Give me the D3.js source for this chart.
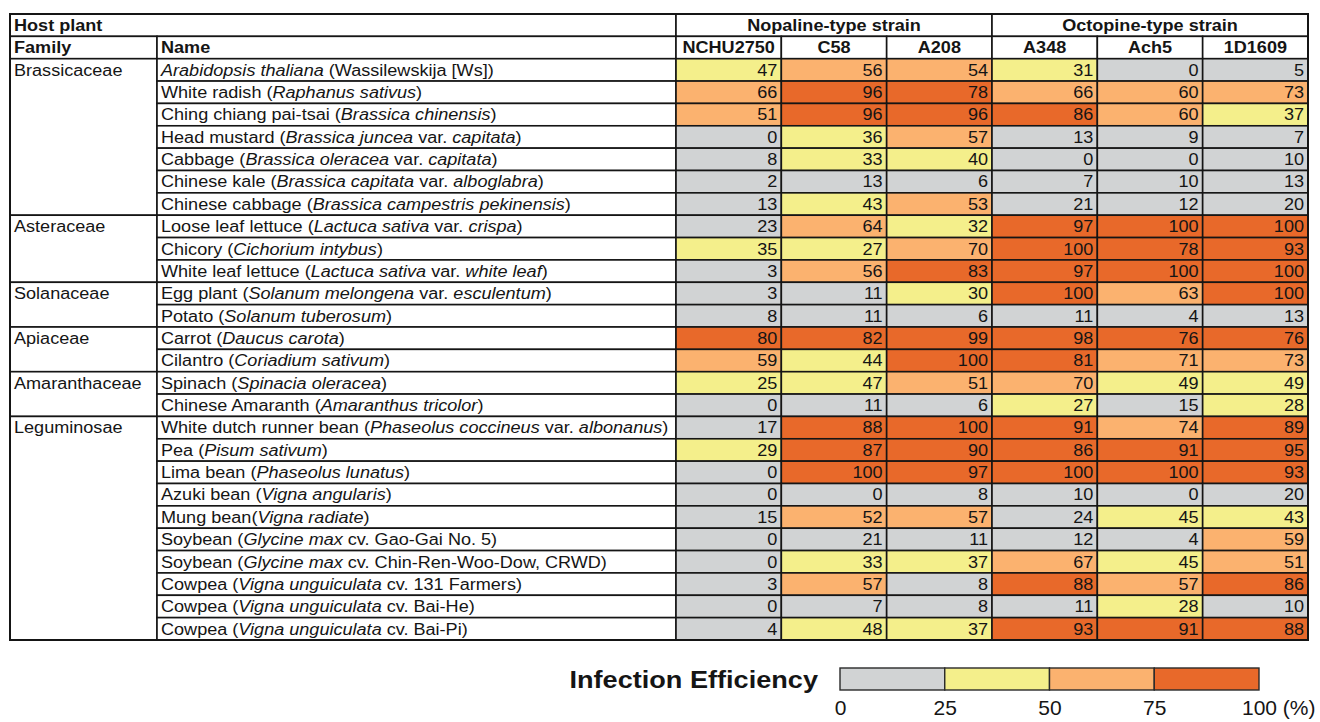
<!DOCTYPE html>
<html>
<head>
<meta charset="utf-8">
<script src="https://cdn.jsdelivr.net/npm/d3@7"></script>
<style>
  html, body { margin: 0; padding: 0; background: #fff; }
  svg { display: block; font-family: 'Liberation Sans', Arial, sans-serif; }
</style>
</head>
<body>
<div id="chart"></div>
<script>
const strains = ['NCHU2750', 'C58', 'A208', 'A348', 'Ach5', '1D1609'];
const strainGroups = ['Nopaline-type strain', 'Octopine-type strain'];
const groupSizes = [3, 3];

const families = ['Brassicaceae', 'Asteraceae', 'Solanaceae', 'Apiaceae', 'Amaranthaceae', 'Leguminosae'];
const familySizes = [7, 3, 2, 2, 2, 10];

// *...* marks the italic (latin) part of a name
const plantNames = [
  '*Arabidopsis thaliana* (Wassilewskija [Ws])',
  'White radish (*Raphanus sativus*)',
  'Ching chiang pai-tsai (*Brassica chinensis*)',
  'Head mustard (*Brassica juncea* var. *capitata*)',
  'Cabbage (*Brassica oleracea* var. *capitata*)',
  'Chinese kale (*Brassica capitata* var. *alboglabra*)',
  'Chinese cabbage (*Brassica campestris pekinensis*)',
  'Loose leaf lettuce (*Lactuca sativa* var. *crispa*)',
  'Chicory (*Cichorium intybus*)',
  'White leaf lettuce (*Lactuca sativa* var. *white leaf*)',
  'Egg plant (*Solanum melongena* var. *esculentum*)',
  'Potato (*Solanum tuberosum*)',
  'Carrot (*Daucus carota*)',
  'Cilantro (*Coriadium sativum*)',
  'Spinach (*Spinacia oleracea*)',
  'Chinese Amaranth (*Amaranthus tricolor*)',
  'White dutch runner bean (*Phaseolus coccineus* var. *albonanus*)',
  'Pea (*Pisum sativum*)',
  'Lima bean (*Phaseolus lunatus*)',
  'Azuki bean (*Vigna angularis*)',
  'Mung bean(*Vigna radiate*)',
  'Soybean (*Glycine max* cv. Gao-Gai No. 5)',
  'Soybean (*Glycine max* cv. Chin-Ren-Woo-Dow, CRWD)',
  'Cowpea (*Vigna unguiculata* cv. 131 Farmers)',
  'Cowpea (*Vigna unguiculata* cv. Bai-He)',
  'Cowpea (*Vigna unguiculata* cv. Bai-Pi)'
];

// infection efficiency (%) per plant, columns in the order of strains
const efficiency = [
  [47, 56, 54, 31, 0, 5],
  [66, 96, 78, 66, 60, 73],
  [51, 96, 96, 86, 60, 37],
  [0, 36, 57, 13, 9, 7],
  [8, 33, 40, 0, 0, 10],
  [2, 13, 6, 7, 10, 13],
  [13, 43, 53, 21, 12, 20],
  [23, 64, 32, 97, 100, 100],
  [35, 27, 70, 100, 78, 93],
  [3, 56, 83, 97, 100, 100],
  [3, 11, 30, 100, 63, 100],
  [8, 11, 6, 11, 4, 13],
  [80, 82, 99, 98, 76, 76],
  [59, 44, 100, 81, 71, 73],
  [25, 47, 51, 70, 49, 49],
  [0, 11, 6, 27, 15, 28],
  [17, 88, 100, 91, 74, 89],
  [29, 87, 90, 86, 91, 95],
  [0, 100, 97, 100, 100, 93],
  [0, 0, 8, 10, 0, 20],
  [15, 52, 57, 24, 45, 43],
  [0, 21, 11, 12, 4, 59],
  [0, 33, 37, 67, 45, 51],
  [3, 57, 8, 88, 57, 86],
  [0, 7, 8, 11, 28, 10],
  [4, 48, 37, 93, 91, 88]
];

const legendTicks = [0, 25, 50, 75, 100];
const legendColors = ['#d1d3d4', '#f4ef8b', '#fbb26f', '#e8692a'];

const W = 1320, H = 722;
const FS = 16;
const SX = 1.13; // text in the figure is a bit wider than Arial
const ink = '#151515';

const svg = d3.select('#chart')
  .append('svg')
  .attr('width', W)
  .attr('height', H)
  .attr('viewBox', `0 0 ${W} ${H}`);

// rows: 2 header rows + one per plant
const y = d3.scaleBand()
  .domain(d3.range(plantNames.length + 2))
  .range([14, 640]);

const colFamily = [10, 157];
const colName = [157, 676];
const x = d3.scaleBand()
  .domain(strains)
  .range([676, 1308]);

const color = d3.scaleThreshold()
  .domain(legendTicks.slice(1, -1))
  .range(legendColors);

function cell(g, x0, y0, w, h, fill) {
  g.append('rect')
    .attr('x', x0)
    .attr('y', y0)
    .attr('width', w)
    .attr('height', h)
    .attr('fill', fill)
    .attr('stroke', ink)
    .attr('stroke-width', 1.6);
}

function label(g, str, px, py, anchor, weight, size, sx) {
  const t = g.append('text')
    .attr('transform', `translate(${px},${py}) scale(${sx || SX},1)`)
    .attr('text-anchor', anchor)
    .attr('dy', '0.36em')
    .attr('font-size', size || FS)
    .attr('font-weight', weight || 'normal')
    .attr('fill', ink);
  str.split('*').forEach((part, i) => {
    if (!part) return;
    t.append('tspan')
      .attr('font-style', i % 2 ? 'italic' : 'normal')
      .text(part);
  });
  return t;
}

const table = svg.append('g');
const rowMid = (r) => y(r) + y.bandwidth() / 2;

// header row 1
cell(table, colFamily[0], y(0), colName[1] - colFamily[0], y.bandwidth(), '#fff');
label(table, 'Host plant', colFamily[0] + 4, rowMid(0), 'start', 'bold');
let gi = 0;
strainGroups.forEach((gname, k) => {
  const first = strains[gi];
  const last = strains[gi + groupSizes[k] - 1];
  const gx0 = x(first);
  const gx1 = x(last) + x.bandwidth();
  cell(table, gx0, y(0), gx1 - gx0, y.bandwidth(), '#fff');
  label(table, gname, (gx0 + gx1) / 2, rowMid(0), 'middle', 'bold');
  gi += groupSizes[k];
});

// header row 2
cell(table, colFamily[0], y(1), colFamily[1] - colFamily[0], y.bandwidth(), '#fff');
label(table, 'Family', colFamily[0] + 4, rowMid(1), 'start', 'bold');
cell(table, colName[0], y(1), colName[1] - colName[0], y.bandwidth(), '#fff');
label(table, 'Name', colName[0] + 4, rowMid(1), 'start', 'bold');
strains.forEach((s) => {
  cell(table, x(s), y(1), x.bandwidth(), y.bandwidth(), '#fff');
  label(table, s, x(s) + x.bandwidth() / 2, rowMid(1), 'middle', 'bold');
});

// family cells (merged over their rows)
let r0 = 2;
families.forEach((f, k) => {
  const h = y.bandwidth() * familySizes[k];
  cell(table, colFamily[0], y(r0), colFamily[1] - colFamily[0], h, '#fff');
  label(table, f, colFamily[0] + 4, rowMid(r0), 'start');
  r0 += familySizes[k];
});

// plant names
plantNames.forEach((n, i) => {
  cell(table, colName[0], y(i + 2), colName[1] - colName[0], y.bandwidth(), '#fff');
  label(table, n, colName[0] + 4, rowMid(i + 2), 'start');
});

// value cells
const cells = efficiency.flatMap((row, i) =>
  row.map((v, j) => ({ r: i + 2, s: strains[j], v })));

table.selectAll('.val')
  .data(cells)
  .enter()
  .append('rect')
  .attr('class', 'val')
  .attr('x', (d) => x(d.s))
  .attr('y', (d) => y(d.r))
  .attr('width', x.bandwidth())
  .attr('height', y.bandwidth())
  .attr('fill', (d) => color(d.v))
  .attr('stroke', ink)
  .attr('stroke-width', 1.6);

cells.forEach((d) => {
  label(table, String(d.v), x(d.s) + x.bandwidth() - 4, rowMid(d.r), 'end');
});

// outer frame
table.append('rect')
  .attr('x', colFamily[0])
  .attr('y', y(0))
  .attr('width', x.range()[1] - colFamily[0])
  .attr('height', y.range()[1] - y(0))
  .attr('fill', 'none')
  .attr('stroke', ink)
  .attr('stroke-width', 2);

// legend
const lx = d3.scaleLinear()
  .domain([0, 100])
  .range([840, 1259]);
const legend = svg.append('g');
const ly0 = 668, lh = 22;

legend.selectAll('rect')
  .data(legendColors)
  .enter()
  .append('rect')
  .attr('x', (d, i) => lx(legendTicks[i]))
  .attr('y', ly0)
  .attr('width', (d, i) => lx(legendTicks[i + 1]) - lx(legendTicks[i]))
  .attr('height', lh)
  .attr('fill', (d) => d)
  .attr('stroke', '#2a2a2a')
  .attr('stroke-width', 1.4);

const axis = legend.append('g')
  .attr('transform', `translate(0,${ly0 + lh})`)
  .call(d3.axisBottom(lx).tickValues(legendTicks).tickSize(0).tickPadding(10));
axis.select('.domain').remove();
axis.selectAll('text')
  .attr('font-family', "'Liberation Sans', Arial, sans-serif")
  .attr('font-size', 21)
  .attr('fill', ink);
// the last tick carries the unit
const lastTick = axis.selectAll('.tick').filter((d) => d === 100).select('text');
const wNum = lastTick.node().getComputedTextLength();
lastTick
  .text('100 (%)')
  .attr('text-anchor', 'start')
  .attr('x', -wNum / 2);

label(legend, 'Infection Efficiency', 818, ly0 + lh / 2, 'end', 'bold', 24, 1.13);
</script>
</body>
</html>
